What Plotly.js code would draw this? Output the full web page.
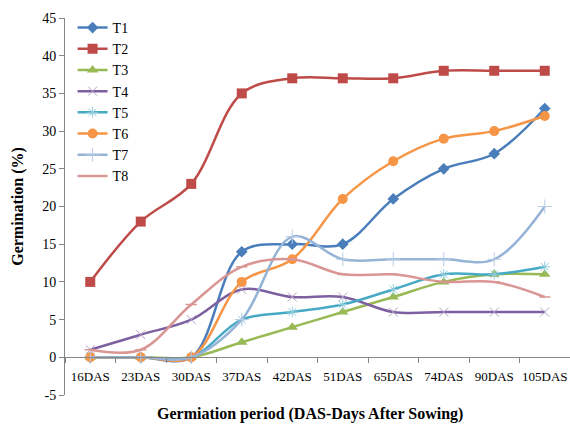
<!DOCTYPE html>
<html>
<head>
<meta charset="utf-8">
<script src="https://cdn.plot.ly/plotly-3.0.1.min.js"></script>
<style>html,body{margin:0;padding:0;background:#fff;}#chart{width:570px;height:429px;}</style>
</head>
<body>
<div id="chart"></div>
<script>
const categories = ["16DAS","23DAS","30DAS","37DAS","42DAS","51DAS","65DAS","74DAS","90DAS","105DAS"];
const seriesNames = ["T1","T2","T3","T4","T5","T6","T7","T8"];
const T1 = [0, 0, 0, 14, 15, 15, 21, 25, 27, 33];
const T2 = [10, 18, 23, 35, 37, 37, 37, 38, 38, 38];
const T3 = [0, 0, 0, 2, 4, 6, 8, 10, 11, 11];
const T4 = [1, 3, 5, 9, 8, 8, 6, 6, 6, 6];
const T5 = [0, 0, 0, 5, 6, 7, 9, 11, 11, 12];
const T6 = [0, 0, 0, 10, 13, 21, 26, 29, 30, 32];
const T7 = [0, 0, 0, 5, 16, 13, 13, 13, 13, 20];
const T8 = [1, 1, 7, 12, 13, 11, 11, 10, 10, 8];
const values = [T1, T2, T3, T4, T5, T6, T7, T8];
const yTickVals = [-5, 0, 5, 10, 15, 20, 25, 30, 35, 40, 45];
const yTickText = ["-5", "0", "5", "10", "15", "20", "25", "30", "35", "40", "45"];

const FONT = "'Liberation Serif', 'Times New Roman', Times, serif";
const colors = ["#4A7EBB","#BE4B48","#98B954","#7D60A0","#46AAC5","#F69545","#95B3D7","#D99694"];
const markers = [
  {symbol:"diamond", size:9},
  {symbol:"square", size:10},
  {symbol:"triangle-up", size:10},
  {symbol:"x-thin-open", size:9, line:{width:1}},
  {symbol:"asterisk-open", size:9, line:{width:1}},
  {symbol:"circle", size:10},
  {symbol:"cross-thin-open", size:10, line:{width:1}},
  {symbol:"line-ew-open", size:8, line:{width:1.5}}
];
const markerColors = ["#4A7EBB","#BE4B48","#98B954","#B3A2C7","#93CDDD","#F69545","#B9CDE5","#D99694"];

const traces = seriesNames.map((n, i) => {
  const m = Object.assign({color: markerColors[i]}, markers[i]);
  if (m.line) m.line = Object.assign({color: markerColors[i]}, m.line);
  return {
    type: "scatter", mode: "lines+markers", name: n,
    x: categories, y: values[i],
    line: {color: colors[i], width: 2.5, shape: "spline", smoothing: 1},
    marker: m
  };
});

const layout = {
  width: 570, height: 429,
  margin: {l: 65, r: 0, t: 18, b: 34},
  paper_bgcolor: "#fff", plot_bgcolor: "#fff",
  font: {family: FONT, size: 13, color: "#000"},
  showlegend: true,
  legend: {x: 0.015, y: 1.016, xanchor: "left", yanchor: "top", bgcolor: "rgba(0,0,0,0)",
           font: {family: FONT, size: 14}, tracegroupgap: 0, itemwidth: 30},
  xaxis: {
    type: "category", range: [-0.5, 9.5], anchor: "free", position: 0.1,
    showline: true, linecolor: "#868686", linewidth: 1,
    ticks: "outside", tickson: "boundaries", ticklen: 5, tickcolor: "#868686",
    showgrid: false, zeroline: false, tickangle: 0, ticklabelstandoff: 7,
    tickfont: {family: FONT, size: 13}
  },
  yaxis: {
    range: [-5, 45], tickvals: yTickVals, ticktext: yTickText,
    showline: true, linecolor: "#868686", linewidth: 1,
    ticks: "outside", ticklen: 5, tickcolor: "#868686",
    showgrid: false, zeroline: false,
    tickfont: {family: FONT, size: 14},
    title: {text: "<b>Germination (%)</b>", font: {family: FONT, size: 16}, standoff: 14}
  },
  annotations: [{
    text: "<b>Germiation period (DAS-Days After Sowing)</b>",
    xref: "paper", yref: "paper", x: 0.485, y: -0.05, xanchor: "center", yanchor: "middle",
    showarrow: false, font: {family: FONT, size: 16}
  }]
};

Plotly.newPlot("chart", traces, layout, {displayModeBar: false});
</script>
</body>
</html>
